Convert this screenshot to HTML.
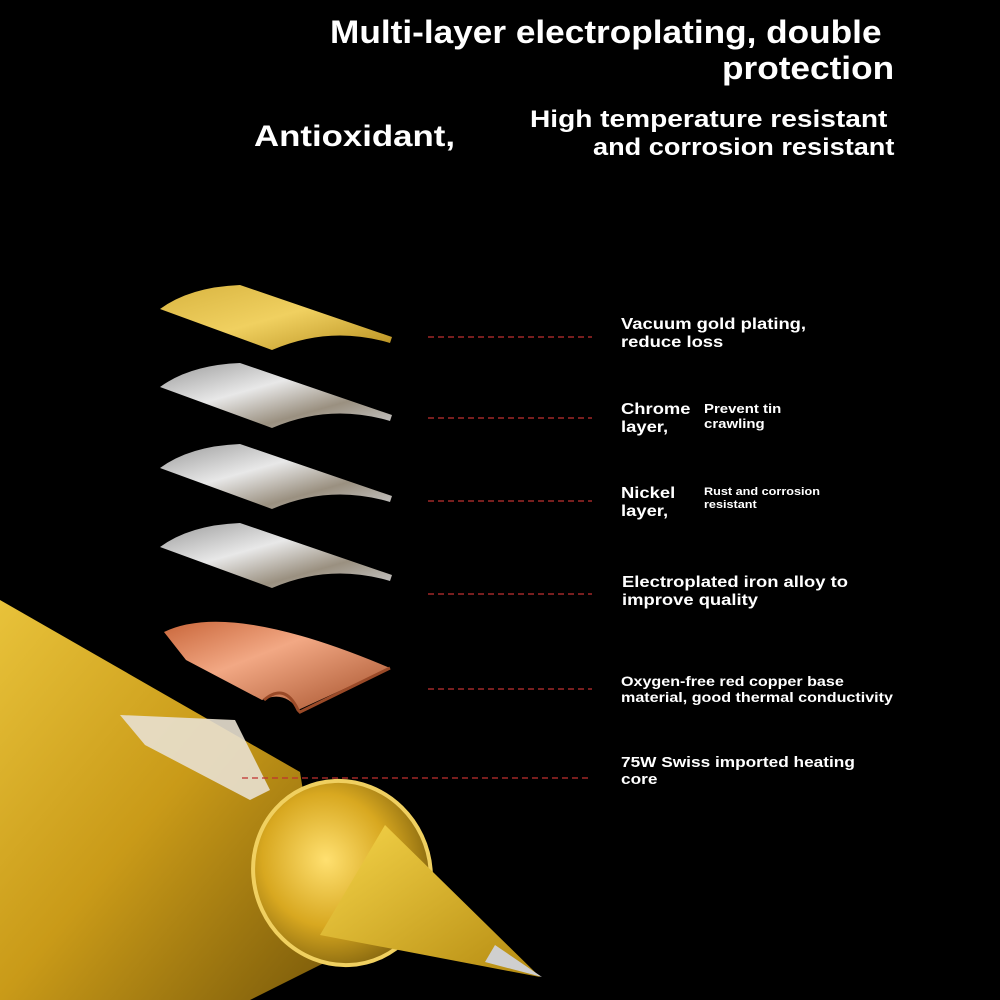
<!DOCTYPE html>
<html><head><meta charset="utf-8"><style>
body{margin:0;background:#000;width:1000px;height:1000px;overflow:hidden;position:relative;font-family:"Liberation Sans",sans-serif;color:#fff;font-weight:bold}
.t{position:absolute;white-space:nowrap;line-height:1.15;transform:scaleX(1.15);transform-origin:0 0}
</style></head><body>
<svg width="1000" height="1000" style="position:absolute;left:0;top:0">
<defs>
<linearGradient id="gold" x1="0" y1="0" x2="1" y2="1"><stop offset="0" stop-color="#d8b440"/><stop offset=".5" stop-color="#f0d060"/><stop offset="1" stop-color="#b89020"/></linearGradient>
<linearGradient id="silv" x1="0" y1="0" x2="1" y2="1"><stop offset="0" stop-color="#9a9a9a"/><stop offset=".4" stop-color="#e8e8e8"/><stop offset=".7" stop-color="#9a9080"/><stop offset="1" stop-color="#c8c8c8"/></linearGradient>
<linearGradient id="cop" x1="0" y1="0" x2="1" y2="1"><stop offset="0" stop-color="#c9663a"/><stop offset=".4" stop-color="#f2a884"/><stop offset="1" stop-color="#a4502a"/></linearGradient>
<linearGradient id="body" x1="0" y1="0" x2="1" y2="1"><stop offset="0" stop-color="#e8c23a"/><stop offset=".5" stop-color="#c99a18"/><stop offset="1" stop-color="#7a5a0a"/></linearGradient>
<radialGradient id="cap" cx=".45" cy=".4" r=".6"><stop offset="0" stop-color="#ffe070"/><stop offset=".6" stop-color="#d8a820"/><stop offset="1" stop-color="#8a6a10"/></radialGradient>
<linearGradient id="cone" x1="0" y1="0" x2="1" y2="1"><stop offset="0" stop-color="#f6d54a"/><stop offset="1" stop-color="#b48a10"/></linearGradient>
<path id="strip" d="M0,24 Q30,2 80,0 L232,52 L230,58 Q170,40 112,65 Z"/>
</defs>
<use href="#strip" x="160" y="285" fill="url(#gold)"/>
<use href="#strip" x="160" y="363" fill="url(#silv)"/>
<use href="#strip" x="160" y="444" fill="url(#silv)"/>
<use href="#strip" x="160" y="523" fill="url(#silv)"/>
<path d="M164,632 Q230,600 390,668 L298,710 Q285,690 262,700 L186,660 Z" fill="url(#cop)"/>
<path d="M264,700 Q285,682 298,710 L300,712 L390,668" fill="none" stroke="#9a4a28" stroke-width="3"/>
<g stroke="#c03030" stroke-width="1.3" stroke-dasharray="6,4">
<line x1="428" y1="337" x2="592" y2="337"/><line x1="428" y1="418" x2="592" y2="418"/><line x1="428" y1="501" x2="592" y2="501"/><line x1="428" y1="594" x2="592" y2="594"/><line x1="428" y1="689" x2="592" y2="689"/>
</g>
<path d="M0,600 L300,772 L330,960 L250,1000 L0,1000 Z" fill="url(#body)"/>
<path d="M120,715 L235,720 L270,790 L250,800 L145,745 Z" fill="#e8e0d0" opacity=".9"/>
<ellipse cx="342" cy="873" rx="88" ry="93" transform="rotate(-25 342 873)" fill="url(#cap)" stroke="#f0d060" stroke-width="4"/>
<path d="M385,825 L540,977 L320,935 Z" fill="url(#cone)"/>
<path d="M495,945 L542,977 L485,962 Z" fill="#cfcfcf"/>
<line x1="242" y1="778" x2="592" y2="778" stroke="#c03030" stroke-width="1.3" stroke-dasharray="6,4"/>
</svg>
<div class="t" style="left:330px;top:14px;font-size:32px;transform:scaleX(1.1)">Multi-layer electroplating, double</div>
<div class="t" style="left:722px;top:50px;font-size:32px;transform:scaleX(1.1)">protection</div>
<div class="t" style="left:254px;top:120px;font-size:30px;transform:scaleX(1.16)">Antioxidant,</div>
<div class="t" style="left:530px;top:106px;font-size:24px;transform:scaleX(1.17)">High temperature resistant</div>
<div class="t" style="left:593px;top:134px;font-size:24px;transform:scaleX(1.13)">and corrosion resistant</div>
<div class="t" style="left:621px;top:316px;font-size:16px">Vacuum gold plating,<br>reduce loss</div>
<div class="t" style="left:621px;top:401px;font-size:16px">Chrome<br>layer,</div>
<div class="t" style="left:704px;top:402px;font-size:13px">Prevent tin<br>crawling</div>
<div class="t" style="left:621px;top:485px;font-size:16px">Nickel<br>layer,</div>
<div class="t" style="left:704px;top:486px;font-size:11px">Rust and corrosion<br>resistant</div>
<div class="t" style="left:622px;top:574px;font-size:16px">Electroplated iron alloy to<br>improve quality</div>
<div class="t" style="left:621px;top:673px;font-size:14px">Oxygen-free red copper base<br>material, good thermal conductivity</div>
<div class="t" style="left:621px;top:754px;font-size:15px">75W Swiss imported heating<br>core</div>
</body></html>
